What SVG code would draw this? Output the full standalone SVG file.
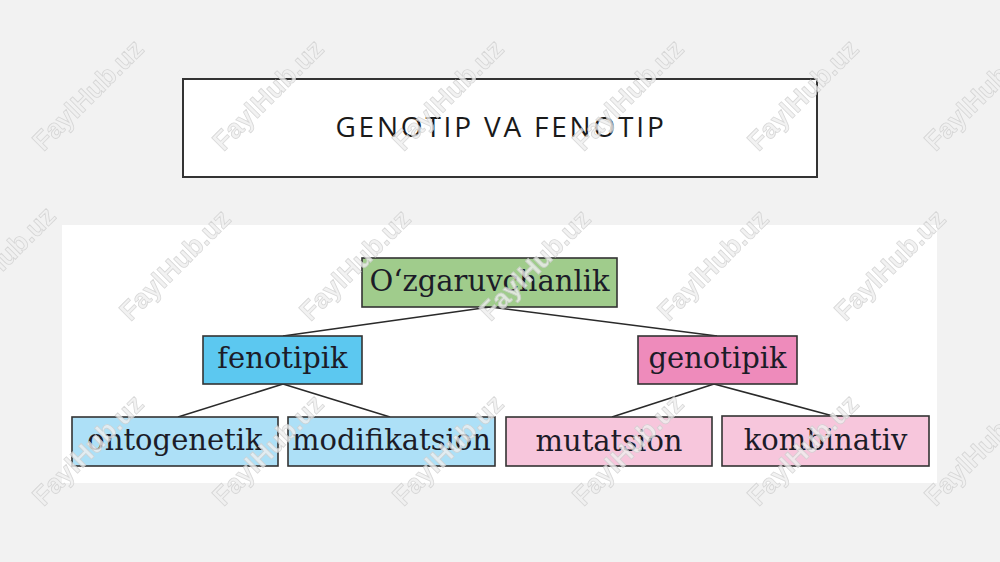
<svg xmlns="http://www.w3.org/2000/svg" width="1000" height="562" viewBox="0 0 1000 562">
<style>
.box{stroke:#333;stroke-width:1.6}
.lbl{font-family:"DejaVu Serif","Liberation Serif",serif;font-size:29px;fill:#1c1c28;text-anchor:middle}
.conn line{stroke:#2a2a2a;stroke-width:1.6}
.wm{font-family:"Liberation Sans",Arial,sans-serif;font-weight:bold;font-size:27px;fill:#efefef;stroke:#cfcfcf;stroke-width:0.8;text-anchor:middle;opacity:0.8}
</style>
<rect x="0" y="0" width="1000" height="562" fill="#f2f2f2"/>
<g id="title">
<rect x="183" y="79" width="634" height="98" fill="#fff" stroke="#333" stroke-width="2"/>
<text x="501" y="137" font-family="'Open Sans','Noto Sans',sans-serif" font-size="28" letter-spacing="2.8" fill="#1a1a1a" text-anchor="middle">GENOTIP VA FENOTIP</text>
</g>
<rect id="panel" x="62" y="225" width="875" height="258" fill="#fff"/>
<g id="connectors" class="conn">
<line x1="490" y1="307" x2="283" y2="336"/>
<line x1="490" y1="307" x2="717" y2="336"/>
<line x1="283" y1="384" x2="178" y2="417"/>
<line x1="283" y1="384" x2="390" y2="417"/>
<line x1="714" y1="384" x2="612" y2="417"/>
<line x1="714" y1="384" x2="833" y2="416"/>
</g>
<g id="root">
<rect class="box" x="362" y="258" width="255" height="49" fill="#a0cc8c"/>
<text class="lbl" x="489.5" y="291">O‘zgaruvchanlik</text>
</g>
<g id="fenotipik">
<rect class="box" x="203" y="336" width="159" height="48" fill="#5cc8f0"/>
<text class="lbl" x="282.5" y="368">fenotipik</text>
</g>
<g id="genotipik">
<rect class="box" x="638" y="336" width="159" height="48" fill="#ee8bbb"/>
<text class="lbl" x="717.5" y="368">genotipik</text>
</g>
<g id="ontogenetik">
<rect class="box" x="72" y="417" width="206" height="49" fill="#ade0f7"/>
<text class="lbl" x="175" y="450">ontogenetik</text>
</g>
<g id="modifikatsion">
<rect class="box" x="288" y="417" width="207" height="49" fill="#ade0f7"/>
<text class="lbl" x="391.5" y="450">modifikatsion</text>
</g>
<g id="mutatsion">
<rect class="box" x="506" y="417" width="206" height="49" fill="#f7c6dc"/>
<text class="lbl" x="609" y="451">mutatsion</text>
</g>
<g id="kombinativ">
<rect class="box" x="722" y="416" width="207" height="50" fill="#f7c6dc"/>
<text class="lbl" x="825.5" y="450">kombinativ</text>
</g>
<g id="watermarks" class="wm">
<text transform="translate(88,95) rotate(-45)" y="9">FaylHub.uz</text>
<text transform="translate(268,95) rotate(-45)" y="9">FaylHub.uz</text>
<text transform="translate(448,95) rotate(-45)" y="9">FaylHub.uz</text>
<text transform="translate(628,95) rotate(-45)" y="9">FaylHub.uz</text>
<text transform="translate(803,95) rotate(-45)" y="9">FaylHub.uz</text>
<text transform="translate(980,95) rotate(-45)" y="9">FaylHub.uz</text>
<text transform="translate(0,262) rotate(-45)" y="9">FaylHub.uz</text>
<text transform="translate(175,265) rotate(-45)" y="9">FaylHub.uz</text>
<text transform="translate(355,265) rotate(-45)" y="9">FaylHub.uz</text>
<text transform="translate(535,265) rotate(-45)" y="9">FaylHub.uz</text>
<text transform="translate(713,265) rotate(-45)" y="9">FaylHub.uz</text>
<text transform="translate(890,265) rotate(-45)" y="9">FaylHub.uz</text>
<text transform="translate(88,450) rotate(-45)" y="9">FaylHub.uz</text>
<text transform="translate(268,450) rotate(-45)" y="9">FaylHub.uz</text>
<text transform="translate(448,450) rotate(-45)" y="9">FaylHub.uz</text>
<text transform="translate(628,450) rotate(-45)" y="9">FaylHub.uz</text>
<text transform="translate(803,450) rotate(-45)" y="9">FaylHub.uz</text>
<text transform="translate(980,450) rotate(-45)" y="9">FaylHub.uz</text>
</g>
</svg>
